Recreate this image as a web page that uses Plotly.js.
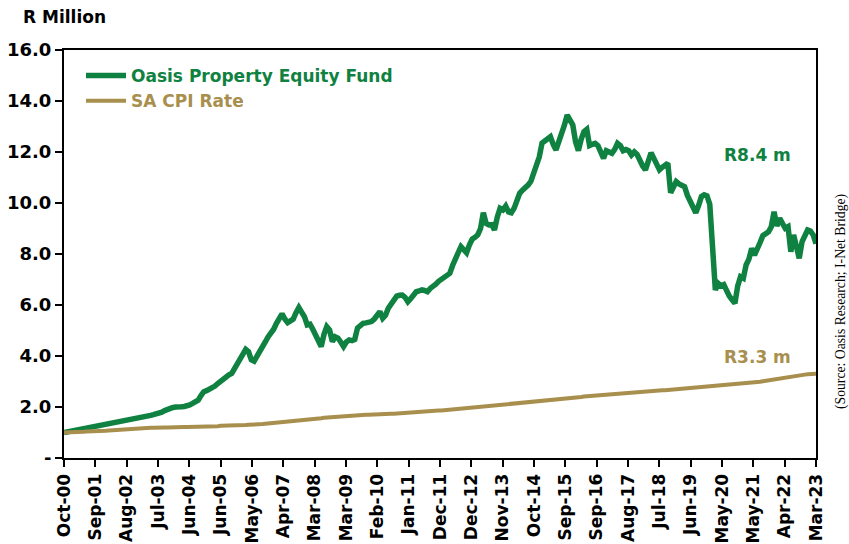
<!DOCTYPE html>
<html>
<head>
<meta charset="utf-8">
<script src="https://cdn.plot.ly/plotly-3.0.1.min.js"></script>
<style>html,body{margin:0;padding:0;background:#fff;}#chart{width:849px;height:544px;}</style>
</head>
<body>
<div id="chart"></div>
<script>
// Monthly series, Oct-00 .. Mar-23 (270 months), R million growth of R1
const startYear = 2000, startMonth = 9; // October 2000 (0-based month)
const fundName = "Oasis Property Equity Fund";
const cpiName = "SA CPI Rate";
const fundValues = [
  1.00,1.02,1.05,1.07,1.09,1.10,1.13,1.15,1.17,1.20,
  1.22,1.24,1.26,1.28,1.29,1.31,1.33,1.35,1.37,1.39,
  1.41,1.43,1.46,1.48,1.50,1.52,1.54,1.57,1.60,1.62,
  1.64,1.67,1.70,1.72,1.75,1.80,1.86,1.92,1.96,1.98,
  2.00,2.03,2.01,2.02,2.04,2.08,2.14,2.20,2.27,2.45,
  2.60,2.64,2.70,2.73,2.82,2.92,3.02,3.10,3.19,3.26,
  3.32,3.50,3.68,3.84,4.05,4.26,4.17,3.85,3.80,3.97,
  4.17,4.35,4.55,4.75,4.89,5.05,5.28,5.45,5.65,5.45,
  5.31,5.38,5.45,5.70,5.90,5.72,5.54,5.22,5.25,5.05,
  4.82,4.55,4.37,4.85,5.15,5.02,4.56,4.75,4.70,4.55,
  4.37,4.55,4.63,4.60,4.65,5.10,5.20,5.28,5.30,5.33,
  5.35,5.45,5.60,5.74,5.48,5.60,5.87,6.05,6.22,6.35,
  6.38,6.39,6.30,6.13,6.25,6.40,6.52,6.55,6.59,6.57,
  6.52,6.65,6.72,6.82,6.93,7.00,7.05,7.15,7.24,7.55,
  7.85,8.05,8.29,8.20,8.05,8.35,8.58,8.65,8.75,9.00,
  9.62,9.20,9.14,9.15,8.94,9.45,9.79,9.73,9.88,9.65,
  9.62,9.79,10.10,10.38,10.50,10.58,10.70,10.85,11.20,11.45,
  11.80,12.35,12.42,12.47,12.60,12.30,12.08,12.41,12.70,13.05,
  13.45,13.25,13.06,12.40,12.05,12.50,12.80,12.89,12.25,12.30,
  12.34,12.25,12.05,11.75,12.05,12.00,11.95,12.10,12.34,12.25,
  12.05,12.10,12.05,11.88,12.00,11.90,11.65,11.45,11.30,11.65,
  11.97,11.75,11.45,11.30,11.40,11.49,11.56,10.40,10.65,10.84,
  10.75,10.70,10.64,10.30,10.10,9.79,9.62,9.90,10.25,10.32,
  10.28,9.95,8.20,6.59,6.85,6.75,6.80,6.55,6.35,6.20,
  6.07,6.75,7.11,7.05,7.57,7.80,8.22,7.96,8.29,8.45,
  8.72,8.80,8.87,9.07,9.66,9.10,9.40,9.20,9.01,9.07,
  8.09,8.75,8.30,7.83,8.48,8.75,8.94,8.90,8.75,8.40
];
const cpiValues = [
  1.00,1.00,1.01,1.01,1.02,1.02,1.03,1.03,1.04,1.04,
  1.05,1.05,1.06,1.06,1.07,1.07,1.08,1.09,1.10,1.11,
  1.12,1.13,1.14,1.15,1.16,1.17,1.17,1.18,1.18,1.19,
  1.19,1.19,1.19,1.20,1.20,1.20,1.20,1.20,1.21,1.21,
  1.21,1.21,1.21,1.22,1.22,1.22,1.23,1.23,1.23,1.24,
  1.24,1.24,1.24,1.25,1.25,1.25,1.26,1.26,1.26,1.27,
  1.27,1.27,1.28,1.28,1.29,1.29,1.30,1.30,1.31,1.32,
  1.32,1.33,1.34,1.35,1.35,1.36,1.37,1.38,1.39,1.40,
  1.41,1.42,1.43,1.44,1.45,1.46,1.47,1.49,1.50,1.52,
  1.53,1.55,1.56,1.58,1.59,1.60,1.61,1.62,1.63,1.65,
  1.65,1.66,1.66,1.67,1.67,1.68,1.69,1.69,1.70,1.70,
  1.71,1.72,1.72,1.72,1.73,1.73,1.73,1.74,1.74,1.75,
  1.75,1.76,1.77,1.77,1.78,1.79,1.79,1.80,1.81,1.82,
  1.83,1.83,1.84,1.85,1.86,1.86,1.87,1.88,1.89,1.90,
  1.91,1.92,1.93,1.94,1.95,1.96,1.97,1.98,1.99,2.00,
  2.01,2.02,2.03,2.04,2.05,2.06,2.07,2.08,2.09,2.11,
  2.12,2.13,2.14,2.15,2.16,2.17,2.18,2.19,2.19,2.20,
  2.21,2.22,2.23,2.24,2.25,2.26,2.28,2.29,2.30,2.31,
  2.32,2.34,2.35,2.37,2.38,2.39,2.41,2.42,2.43,2.44,
  2.45,2.46,2.47,2.48,2.49,2.50,2.51,2.52,2.53,2.54,
  2.54,2.55,2.56,2.57,2.58,2.58,2.59,2.60,2.61,2.62,
  2.63,2.63,2.64,2.65,2.66,2.66,2.67,2.68,2.69,2.70,
  2.70,2.71,2.72,2.73,2.74,2.75,2.76,2.77,2.78,2.79,
  2.80,2.81,2.81,2.82,2.82,2.83,2.83,2.84,2.85,2.86,
  2.87,2.88,2.89,2.90,2.91,2.93,2.95,2.96,2.98,2.99,
  3.01,3.03,3.04,3.06,3.08,3.09,3.11,3.13,3.15,3.17,
  3.19,3.21,3.23,3.24,3.26,3.27,3.28,3.29,3.29,3.30
];
const xTickLabels = ["Oct-00","Sep-01","Aug-02","Jul-03","Jun-04","Jun-05","May-06","Apr-07","Mar-08","Mar-09","Feb-10","Jan-11","Dec-11","Dec-12","Nov-13","Oct-14","Sep-15","Sep-16","Aug-17","Jul-18","Jun-19","May-20","May-21","Apr-22","Mar-23"];
const yTickValues = [0,2,4,6,8,10,12,14,16];
const yTickLabels = ["-","2.0","4.0","6.0","8.0","10.0","12.0","14.0","16.0"];
const yAxisLabel = "R Million";
const sourceText = "(Source: Oasis Research; I-Net Bridge)";

const GREEN = "#0f8140";
const GOLD = "#a88f4e";
const FONT = "DejaVu Sans, Verdana, sans-serif";

const n = fundValues.length;
const monthIdx = fundValues.map((_, i) => i);
const monthNames = ["Jan","Feb","Mar","Apr","May","Jun","Jul","Aug","Sep","Oct","Nov","Dec"];
const monthText = monthIdx.map(i => {
  const t = startMonth + i; const y = startYear + Math.floor(t / 12);
  return monthNames[t % 12] + "-" + String(y % 100).padStart(2, "0");
});
const xTickVals = xTickLabels.map((_, i) => i * (n - 1) / (xTickLabels.length - 1));

const traces = [
  {x: monthIdx, y: fundValues, text: monthText, type: "scatter", mode: "lines",
   name: '<span style="color:' + GREEN + '"><b>' + fundName + '</b></span>',
   line: {color: GREEN, width: 5.5}},
  {x: monthIdx, y: cpiValues, text: monthText, type: "scatter", mode: "lines",
   name: '<span style="color:' + GOLD + '"><b>' + cpiName + '</b></span>',
   line: {color: GOLD, width: 4}}
];

const W = 849, H = 544, L = 64, R = 33, T = 50, B = 86;
const pw = W - L - R, ph = H - T - B;
const px2paperX = p => (p - L) / pw;
const px2paperY = p => (H - B - p) / ph;

const layout = {
  width: W, height: H,
  margin: {l: L, r: R, t: T, b: B, pad: 0},
  paper_bgcolor: "#ffffff", plot_bgcolor: "#ffffff",
  font: {family: FONT, size: 17, color: "#000"},
  showlegend: true,
  legend: {x: px2paperX(81), y: px2paperY(58), xanchor: "left", yanchor: "top",
           bgcolor: "rgba(0,0,0,0)", font: {family: FONT, size: 17, weight: "bold"},
           tracegroupgap: 0, itemwidth: 40},
  xaxis: {range: [0, n - 1], tickmode: "array", tickvals: xTickVals, ticktext: xTickLabels,
          tickangle: -90, ticks: "outside", ticklen: 7, tickwidth: 2, tickcolor: "#000",
          showline: true, linecolor: "#000", linewidth: 2, mirror: true,
          showgrid: false, zeroline: false,
          tickfont: {family: FONT, size: 17, weight: "bold", color: "#000"}},
  yaxis: {range: [0, 16], tickmode: "array", tickvals: yTickValues, ticktext: yTickLabels,
          ticks: "outside", ticklen: 7, tickwidth: 2, tickcolor: "#000",
          showline: true, linecolor: "#000", linewidth: 2, mirror: true,
          showgrid: false, zeroline: false,
          tickfont: {family: FONT, size: 18, weight: "bold", color: "#000"}},
  annotations: [
    {xref: "paper", yref: "paper", x: px2paperX(21), y: px2paperY(17), xanchor: "left", yanchor: "middle",
     text: "<b>" + yAxisLabel + "</b>", showarrow: false, font: {family: FONT, size: 17, color: "#000"}},
    {xref: "x", yref: "y", x: 248, y: 11.9, xanchor: "center", yanchor: "middle",
     text: "<b>R" + fundValues[n - 1].toFixed(1) + " m</b>", showarrow: false,
     font: {family: FONT, size: 17, color: GREEN}},
    {xref: "x", yref: "y", x: 248, y: 3.95, xanchor: "center", yanchor: "middle",
     text: "<b>R" + cpiValues[n - 1].toFixed(1) + " m</b>", showarrow: false,
     font: {family: FONT, size: 17, color: GOLD}},
    {xref: "paper", yref: "paper", x: px2paperX(841), y: px2paperY(302), xanchor: "center", yanchor: "middle",
     text: sourceText, textangle: -90, showarrow: false,
     font: {family: "Liberation Serif, Times New Roman, serif", size: 13.7, color: "#000"}}
  ]
};

Plotly.newPlot("chart", traces, layout, {displayModeBar: false, staticPlot: true});
</script>
</body>
</html>
